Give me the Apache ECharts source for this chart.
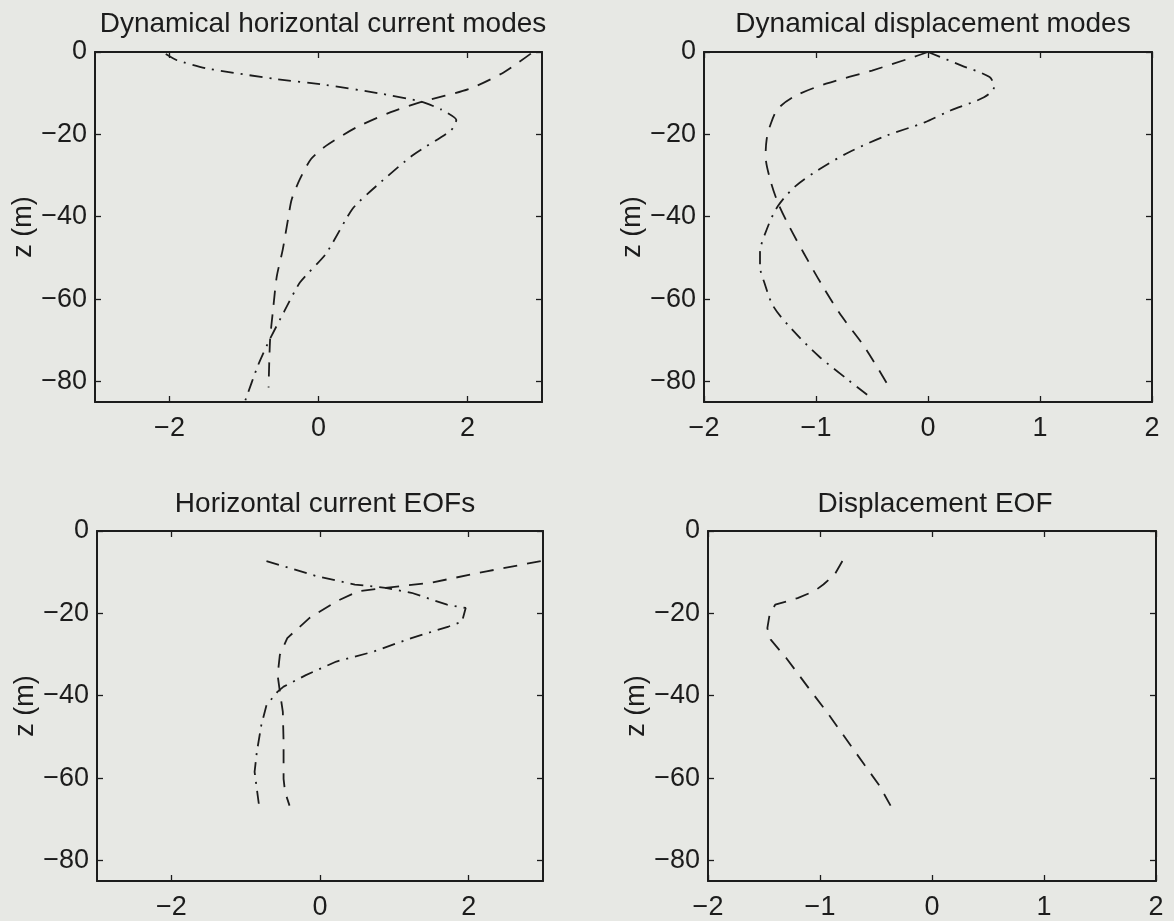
<!DOCTYPE html>
<html>
<head>
<meta charset="utf-8">
<script src="https://cdn.jsdelivr.net/npm/echarts@6/dist/echarts.min.js"></script>
<style>
html,body{margin:0;padding:0;background:#e7e8e4;}
#c{width:1174px;height:921px;}
</style>
</head>
<body>
<div id="c"></div>
<script>
// ---- Titles / labels ----
const titles = ['Dynamical horizontal current modes', 'Dynamical displacement modes', 'Horizontal current EOFs', 'Displacement EOF'];
const yName = 'z (m)';
const xTicksCurrent = [-2, 0, 2];
const xTicksDisp = [-2, -1, 0, 1, 2];
const yTicks = [-80, -60, -40, -20, 0];

// ---- Top-left: dynamical horizontal current modes ----
const zTLdash = [-0.4, -4.9, -8.9, -12.2, -14.6, -18.3, -22.8, -26, -30.9, -35.8, -40.7, -48, -54.5, -62.6, -69.9, -81.5];
const xTLdash = [2.85, 2.49, 2.03, 1.37, 0.97, 0.51, 0.10, -0.10, -0.25, -0.36, -0.41, -0.48, -0.56, -0.61, -0.65, -0.67];
const zTLdd = [-0.5, -2.0, -4.0, -6.5, -8.0, -10.0, -12.0, -14.0, -16.5, -19.0, -25.0, -32.0, -38.0, -49.0, -56.0, -63.0, -70.0, -76.0, -85.0];
const xTLdd = [-2.05, -1.90, -1.50, -0.60, 0.10, 0.80, 1.37, 1.65, 1.85, 1.78, 1.27, 0.81, 0.46, 0.10, -0.25, -0.46, -0.66, -0.81, -0.99];

// ---- Top-right: dynamical displacement modes ----
const zTRdash = [0, -1.6, -4.5, -7.7, -10.6, -13.8, -17.9, -21.1, -25.2, -30.9, -36.6, -42.3, -48.8, -56.9, -64.2, -71.5, -81.7];
const xTRdash = [0, -0.17, -0.50, -0.91, -1.18, -1.34, -1.41, -1.44, -1.45, -1.41, -1.34, -1.24, -1.11, -0.94, -0.77, -0.57, -0.34];
const zTRdd = [0, -3.3, -6.1, -8.5, -11.0, -14.2, -17.1, -20.3, -24.4, -28.5, -32.5, -37.4, -43.1, -48.8, -52.0, -56.1, -61.8, -67.5, -74.0, -79.7, -83.3];
const xTRdd = [0, 0.30, 0.55, 0.59, 0.50, 0.20, -0.03, -0.37, -0.71, -0.97, -1.18, -1.34, -1.44, -1.50, -1.50, -1.46, -1.38, -1.21, -0.97, -0.71, -0.54];

// ---- Bottom-left: horizontal current EOFs ----
const zBLdash = [-7.3, -9.8, -12.6, -13.8, -14.6, -17.1, -21.1, -26.0, -30.1, -35.0, -39.0, -43.9, -51.2, -60.2, -63.4, -66.7];
const xBLdash = [2.97, 2.24, 1.48, 0.88, 0.52, 0.22, -0.14, -0.44, -0.54, -0.57, -0.54, -0.50, -0.49, -0.49, -0.47, -0.41];
const zBLdd = [-7.3, -11.0, -13.0, -13.8, -15.0, -17.9, -18.7, -22.0, -23.2, -26.0, -29.3, -31.7, -35.0, -37.8, -39.0, -42.3, -47.2, -53.7, -58.5, -62.6, -66.7];
const xBLdd = [-0.72, -0.04, 0.47, 0.88, 1.23, 1.71, 1.96, 1.91, 1.73, 1.23, 0.72, 0.22, -0.19, -0.49, -0.57, -0.72, -0.79, -0.85, -0.88, -0.85, -0.82];

// ---- Bottom-right: displacement EOF ----
const zBRdash = [-7.3, -10.6, -13.0, -14.6, -16.3, -17.9, -20.3, -23.6, -26.4, -30.9, -38.2, -43.9, -50.4, -56.9, -61.8, -66.7];
const xBRdash = [-0.80, -0.87, -0.97, -1.05, -1.20, -1.40, -1.45, -1.47, -1.44, -1.30, -1.10, -0.94, -0.77, -0.60, -0.47, -0.37];

// ---- build option ----
const FONT = '"Liberation Sans", Arial, Helvetica, sans-serif';
const INK = '#1c1c1c';
const FS = 27;
const FT = 28;
const fmt = v => (v < 0 ? '\u2212' + Math.abs(v) : String(v));

const grids = [
  {left: 95, top: 52, width: 447, height: 350},
  {left: 704, top: 52, width: 448, height: 350},
  {left: 97, top: 531, width: 446, height: 350},
  {left: 708, top: 531, width: 448, height: 350}
];
const xRanges = [[-3, 3], [-2, 2], [-3, 3], [-2, 2]];
const xTickSets = [xTicksCurrent, xTicksDisp, xTicksCurrent, xTicksDisp];

const xAxes = [], yAxes = [];
grids.forEach((g, i) => {
  const [mn, mx] = xRanges[i];
  const common = {
    type: 'value', gridIndex: i, min: mn, max: mx,
    axisLine: {show: true, onZero: false, lineStyle: {color: INK, width: 2}},
    splitLine: {show: false}
  };
  xAxes.push(Object.assign({}, common, {
    position: 'bottom',
    axisTick: {show: true, inside: true, length: 6, lineStyle: {color: INK, width: 1.3}, customValues: xTickSets[i]},
    axisLabel: {show: true, margin: 13, color: INK, fontSize: FS, fontFamily: FONT, formatter: fmt, customValues: xTickSets[i]}
  }));
  xAxes.push(Object.assign({}, common, {
    position: 'top',
    axisTick: {show: true, inside: true, length: 6, lineStyle: {color: INK, width: 1.3}, customValues: xTickSets[i]},
    axisLabel: {show: false}
  }));
  const yc = {
    type: 'value', gridIndex: i, min: -85, max: 0,
    axisLine: {show: true, onZero: false, lineStyle: {color: INK, width: 2}},
    splitLine: {show: false}
  };
  yAxes.push(Object.assign({}, yc, {
    position: 'left',
    name: yName, nameLocation: 'middle', nameRotate: 90, nameGap: 58,
    nameTextStyle: {color: INK, fontSize: FS, fontFamily: FONT},
    axisTick: {show: true, inside: true, length: 6, lineStyle: {color: INK, width: 1.3}, customValues: yTicks},
    axisLabel: {show: true, margin: 8, color: INK, fontSize: FS, fontFamily: FONT, formatter: fmt, customValues: yTicks}
  }));
  yAxes.push(Object.assign({}, yc, {
    position: 'right',
    axisTick: {show: true, inside: true, length: 6, lineStyle: {color: INK, width: 1.3}, customValues: yTicks},
    axisLabel: {show: false}
  }));
});

const pair = (xs, zs) => xs.map((x, k) => [x, zs[k]]);
const DASH = [14, 10];
const DASHDOT = [13, 7, 2, 7];
function line(i, xs, zs, dash, smooth) {
  return {
    type: 'line', xAxisIndex: 2 * i, yAxisIndex: 2 * i,
    data: pair(xs, zs), showSymbol: false, symbol: 'none', smooth: smooth,
    clip: true, animation: false,
    lineStyle: {color: INK, width: 1.8, type: dash}
  };
}

const series = [
  line(0, xTLdash, zTLdash, DASH, 0.25),
  line(0, xTLdd, zTLdd, DASHDOT, 0.2),
  line(1, xTRdash, zTRdash, DASH, 0.3),
  line(1, xTRdd, zTRdd, DASHDOT, 0.3),
  line(2, xBLdash, zBLdash, DASH, false),
  line(2, xBLdd, zBLdd, DASHDOT, false),
  line(3, xBRdash, zBRdash, DASH, false)
];

const titleCenters = [[318, 5], [928, 5], [320, 485], [930, 485]];
const title = titles.map((t, i) => ({
  text: t, left: titleCenters[i][0], top: titleCenters[i][1], textAlign: 'center',
  textStyle: {color: INK, fontSize: FT, fontWeight: 'normal', fontFamily: FONT}
}));

const chart = echarts.init(document.getElementById('c'), null, {renderer: 'canvas'});
chart.setOption({
  backgroundColor: '#e7e8e4',
  animation: false,
  title: title,
  grid: grids,
  xAxis: xAxes,
  yAxis: yAxes,
  series: series
});
</script>
</body>
</html>
